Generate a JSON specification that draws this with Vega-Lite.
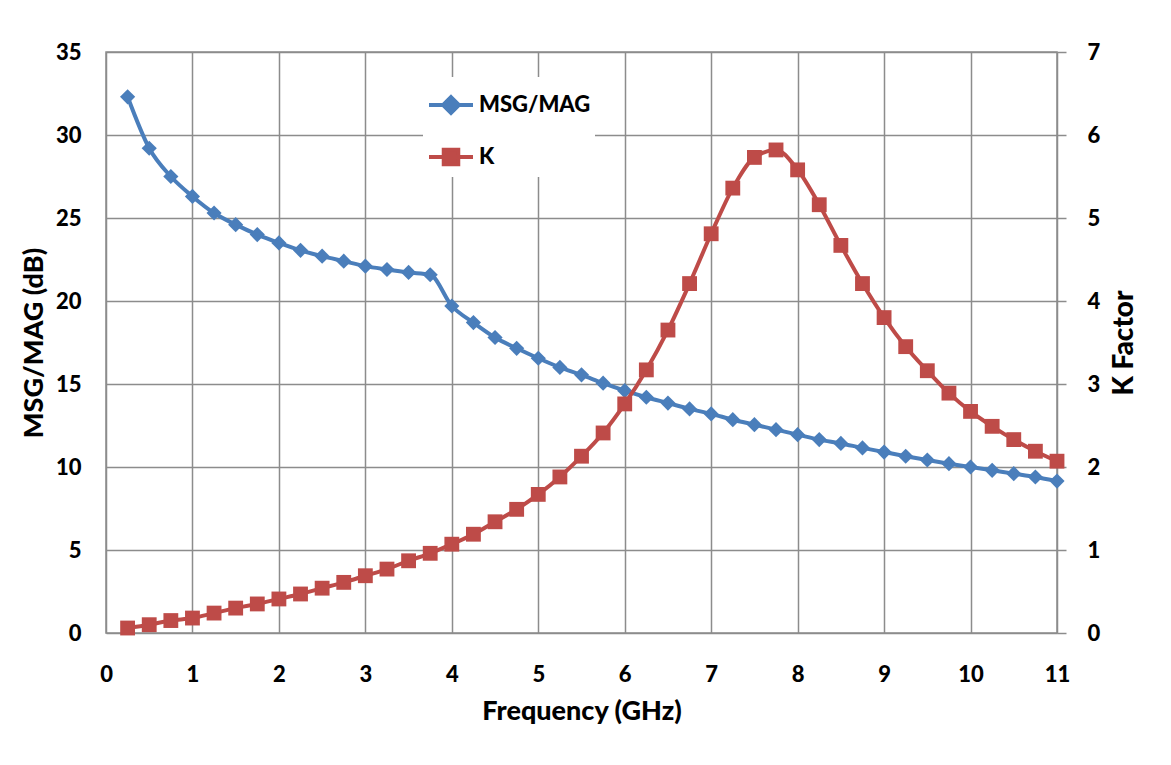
{
  "$schema": "https://vega.github.io/schema/vega-lite/v6.json",
  "width": 951,
  "height": 581,
  "autosize": {"type": "none"},
  "padding": {"left": 106, "top": 52, "right": 114, "bottom": 132},
  "background": "white",
  "config": {
    "font": "Lato",
    "view": {"stroke": "#8c8c8c", "strokeWidth": 1.5},
    "axis": {
      "labelFont": "Lato", "labelFontWeight": 900, "labelFontSize": 22, "labelColor": "black",
      "titleFont": "Lato", "titleFontWeight": 900, "titleFontSize": 27, "titleColor": "black",
      "gridColor": "#8c8c8c", "gridWidth": 1.5, "gridOpacity": 1,
      "domain": false, "tickColor": "#8c8c8c", "tickWidth": 1.5,
      "labelFlush": false, "labelOverlap": false
    }
  },
  "data": {
    "values": [
      {"freq": 0.25, "series": "MSG/MAG", "value": 32.3},
      {"freq": 0.5, "series": "MSG/MAG", "value": 29.2},
      {"freq": 0.75, "series": "MSG/MAG", "value": 27.5},
      {"freq": 1.0, "series": "MSG/MAG", "value": 26.3},
      {"freq": 1.25, "series": "MSG/MAG", "value": 25.3},
      {"freq": 1.5, "series": "MSG/MAG", "value": 24.6},
      {"freq": 1.75, "series": "MSG/MAG", "value": 24.0},
      {"freq": 2.0, "series": "MSG/MAG", "value": 23.5},
      {"freq": 2.25, "series": "MSG/MAG", "value": 23.05},
      {"freq": 2.5, "series": "MSG/MAG", "value": 22.7},
      {"freq": 2.75, "series": "MSG/MAG", "value": 22.4},
      {"freq": 3.0, "series": "MSG/MAG", "value": 22.1},
      {"freq": 3.25, "series": "MSG/MAG", "value": 21.9},
      {"freq": 3.5, "series": "MSG/MAG", "value": 21.72},
      {"freq": 3.75, "series": "MSG/MAG", "value": 21.58},
      {"freq": 4.0, "series": "MSG/MAG", "value": 19.7},
      {"freq": 4.25, "series": "MSG/MAG", "value": 18.7},
      {"freq": 4.5, "series": "MSG/MAG", "value": 17.8},
      {"freq": 4.75, "series": "MSG/MAG", "value": 17.15},
      {"freq": 5.0, "series": "MSG/MAG", "value": 16.55},
      {"freq": 5.25, "series": "MSG/MAG", "value": 16.0},
      {"freq": 5.5, "series": "MSG/MAG", "value": 15.55},
      {"freq": 5.75, "series": "MSG/MAG", "value": 15.05},
      {"freq": 6.0, "series": "MSG/MAG", "value": 14.6},
      {"freq": 6.25, "series": "MSG/MAG", "value": 14.2},
      {"freq": 6.5, "series": "MSG/MAG", "value": 13.85},
      {"freq": 6.75, "series": "MSG/MAG", "value": 13.5},
      {"freq": 7.0, "series": "MSG/MAG", "value": 13.2},
      {"freq": 7.25, "series": "MSG/MAG", "value": 12.85},
      {"freq": 7.5, "series": "MSG/MAG", "value": 12.55},
      {"freq": 7.75, "series": "MSG/MAG", "value": 12.25},
      {"freq": 8.0, "series": "MSG/MAG", "value": 11.95},
      {"freq": 8.25, "series": "MSG/MAG", "value": 11.65},
      {"freq": 8.5, "series": "MSG/MAG", "value": 11.42},
      {"freq": 8.75, "series": "MSG/MAG", "value": 11.15},
      {"freq": 9.0, "series": "MSG/MAG", "value": 10.9},
      {"freq": 9.25, "series": "MSG/MAG", "value": 10.65},
      {"freq": 9.5, "series": "MSG/MAG", "value": 10.42},
      {"freq": 9.75, "series": "MSG/MAG", "value": 10.2},
      {"freq": 10.0, "series": "MSG/MAG", "value": 10.0},
      {"freq": 10.25, "series": "MSG/MAG", "value": 9.8},
      {"freq": 10.5, "series": "MSG/MAG", "value": 9.6},
      {"freq": 10.75, "series": "MSG/MAG", "value": 9.4},
      {"freq": 11.0, "series": "MSG/MAG", "value": 9.15},
      {"freq": 0.25, "series": "K", "value": 0.06},
      {"freq": 0.5, "series": "K", "value": 0.1},
      {"freq": 0.75, "series": "K", "value": 0.15},
      {"freq": 1.0, "series": "K", "value": 0.18},
      {"freq": 1.25, "series": "K", "value": 0.24},
      {"freq": 1.5, "series": "K", "value": 0.3},
      {"freq": 1.75, "series": "K", "value": 0.35},
      {"freq": 2.0, "series": "K", "value": 0.41},
      {"freq": 2.25, "series": "K", "value": 0.47},
      {"freq": 2.5, "series": "K", "value": 0.54},
      {"freq": 2.75, "series": "K", "value": 0.61},
      {"freq": 3.0, "series": "K", "value": 0.69},
      {"freq": 3.25, "series": "K", "value": 0.77},
      {"freq": 3.5, "series": "K", "value": 0.87},
      {"freq": 3.75, "series": "K", "value": 0.96},
      {"freq": 4.0, "series": "K", "value": 1.07},
      {"freq": 4.25, "series": "K", "value": 1.19},
      {"freq": 4.5, "series": "K", "value": 1.34},
      {"freq": 4.75, "series": "K", "value": 1.49},
      {"freq": 5.0, "series": "K", "value": 1.67},
      {"freq": 5.25, "series": "K", "value": 1.88},
      {"freq": 5.5, "series": "K", "value": 2.13},
      {"freq": 5.75, "series": "K", "value": 2.41},
      {"freq": 6.0, "series": "K", "value": 2.76},
      {"freq": 6.25, "series": "K", "value": 3.17},
      {"freq": 6.5, "series": "K", "value": 3.65},
      {"freq": 6.75, "series": "K", "value": 4.21},
      {"freq": 7.0, "series": "K", "value": 4.81},
      {"freq": 7.25, "series": "K", "value": 5.36},
      {"freq": 7.5, "series": "K", "value": 5.73},
      {"freq": 7.75, "series": "K", "value": 5.82},
      {"freq": 8.0, "series": "K", "value": 5.58},
      {"freq": 8.25, "series": "K", "value": 5.16},
      {"freq": 8.5, "series": "K", "value": 4.67},
      {"freq": 8.75, "series": "K", "value": 4.21},
      {"freq": 9.0, "series": "K", "value": 3.8},
      {"freq": 9.25, "series": "K", "value": 3.45},
      {"freq": 9.5, "series": "K", "value": 3.16},
      {"freq": 9.75, "series": "K", "value": 2.89},
      {"freq": 10.0, "series": "K", "value": 2.67},
      {"freq": 10.25, "series": "K", "value": 2.49},
      {"freq": 10.5, "series": "K", "value": 2.33},
      {"freq": 10.75, "series": "K", "value": 2.19},
      {"freq": 11.0, "series": "K", "value": 2.07}
    ]
  },
  "encoding": {
    "x": {
      "field": "freq", "type": "quantitative",
      "scale": {"domain": [0, 11], "nice": false},
      "axis": {
        "values": [0, 1, 2, 3, 4, 5, 6, 7, 8, 9, 10, 11],
        "format": "d", "title": "Frequency (GHz)",
        "ticks": false, "labelPadding": 31, "titlePadding": 13, "grid": true
      }
    },
    "color": {
      "field": "series", "type": "nominal",
      "scale": {"domain": ["MSG/MAG", "K"], "range": ["#4a7ebb", "#be4b48"]},
      "legend": {
        "orient": "none", "legendX": 317, "legendY": 25,
        "title": null, "fillColor": "white", "padding": 4,
        "symbolSize": 1936, "labelOffset": 4, "rowPadding": 12,
        "labelFont": "Lato", "labelFontSize": 22, "labelFontWeight": 900, "labelColor": "black",
        "symbolStrokeWidth": 4,
        "encode": {
          "symbols": {
            "update": {
              "shape": {"signal": "datum.value === 'K' ? 'M-1,0H1M-0.33,-0.33H0.33V0.33H-0.33Z' : 'M-1,0H1M0,-0.36L0.36,0L0,0.36L-0.36,0Z'"},
              "fill": {"signal": "datum.value === 'K' ? '#be4b48' : '#4a7ebb'"},
              "stroke": {"signal": "datum.value === 'K' ? '#be4b48' : '#4a7ebb'"},
              "strokeWidth": {"value": 4},
              "opacity": {"value": 1},
              "fillOpacity": {"value": 1}
            }
          }
        }
      }
    }
  },
  "layer": [
    {
      "transform": [{"filter": "datum.series === 'MSG/MAG'"}],
      "mark": {"type": "line", "strokeWidth": 4, "interpolate": "monotone", "point": {"shape": "diamond", "size": 230, "filled": true, "opacity": 1}},
      "encoding": {
        "y": {
          "field": "value", "type": "quantitative",
          "scale": {"domain": [0, 35], "nice": false},
          "axis": {
            "orient": "left", "values": [0, 5, 10, 15, 20, 25, 30, 35],
            "title": "MSG/MAG (dB)", "ticks": false, "labelPadding": 25, "titlePadding": 7, "grid": true
          }
        }
      }
    },
    {
      "transform": [{"filter": "datum.series === 'K'"}],
      "mark": {"type": "line", "strokeWidth": 4, "interpolate": "monotone", "point": {"shape": "square", "size": 220, "filled": true, "opacity": 1}},
      "encoding": {
        "y": {
          "field": "value", "type": "quantitative",
          "scale": {"domain": [0, 7], "nice": false},
          "axis": {
            "orient": "right", "values": [0, 1, 2, 3, 4, 5, 6, 7],
            "title": "K  Factor", "titleFontSize": 28, "ticks": true, "tickSize": 9, "labelPadding": 21,
            "titleAngle": 270, "titleBaseline": "top", "titlePadding": 11, "grid": false
          }
        }
      }
    }
  ],
  "resolve": {"scale": {"y": "independent"}}
}
